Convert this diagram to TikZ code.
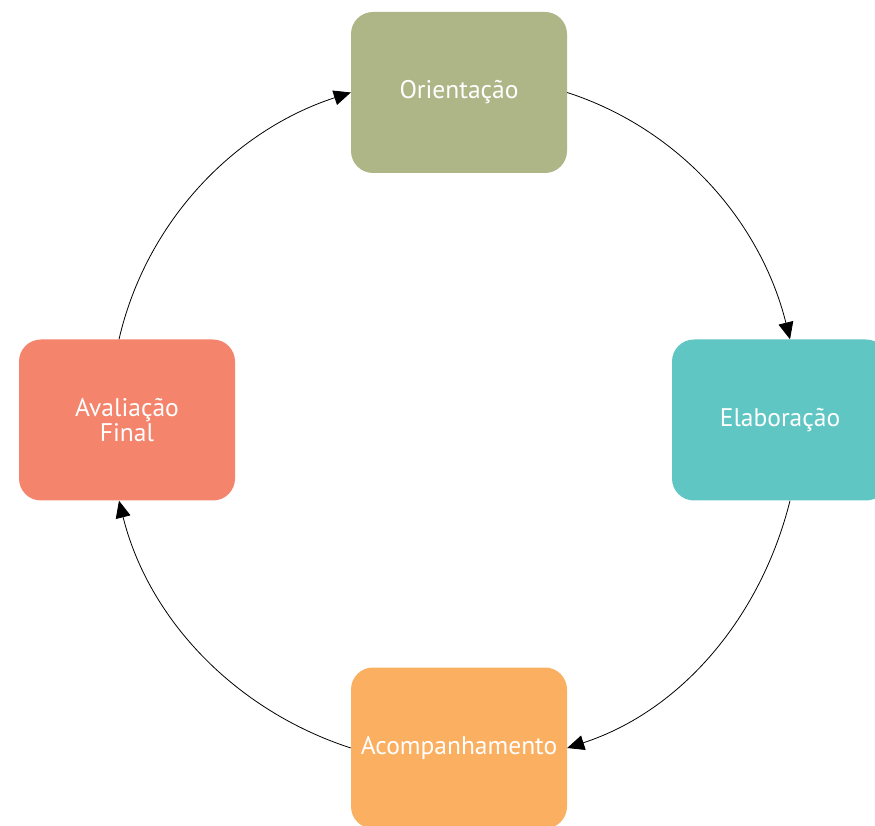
\documentclass[tikz,border=0pt]{standalone}
\usepackage{fontspec}
\setmainfont{PT Sans}
\usetikzlibrary{arrows.meta}

\definecolor{verde}{HTML}{AEB587}
\definecolor{turquesa}{HTML}{5FC6C4}
\definecolor{laranja}{HTML}{FAAF61}
\definecolor{salmao}{HTML}{F4846C}

\begin{document}
\begin{tikzpicture}[x=1pt,y=1pt,
	etapa/.style={rounded corners=22pt, minimum width=216pt, minimum height=161pt,
		inner sep=0pt, align=center, text=white, font=\fontsize{25.5}{25}\selectfont},
	seta/.style={-{Triangle[length=17pt,width=15pt]}, line width=0.8pt, looseness=0.92}]
	
	\useasboundingbox (0,0) rectangle (875,825);
	
	\node[etapa, fill=verde] (ori) at (459,732.5) {Orientação};
	\node[etapa, fill=turquesa] (ela) at (780,405) {Elaboração};
	\node[etapa, fill=laranja] (aco) at (459,77) {Acompanhamento};
	\node[etapa, fill=salmao] (ava) at (127,405) {Avaliação\\Final};
	
	% ciclo
	\draw[seta] (ori.east) to[out=-18,in=104] ([xshift=10pt]ela.north);
	\draw[seta] ([xshift=10pt]ela.south) to[out=-104,in=18] (aco.east);
	\draw[seta] (aco.west) to[out=162,in=-76] ([xshift=-8pt]ava.south);
	\draw[seta] ([xshift=-8pt]ava.north) to[out=77,in=-162] (ori.west);
	
\end{tikzpicture}
\end{document}
